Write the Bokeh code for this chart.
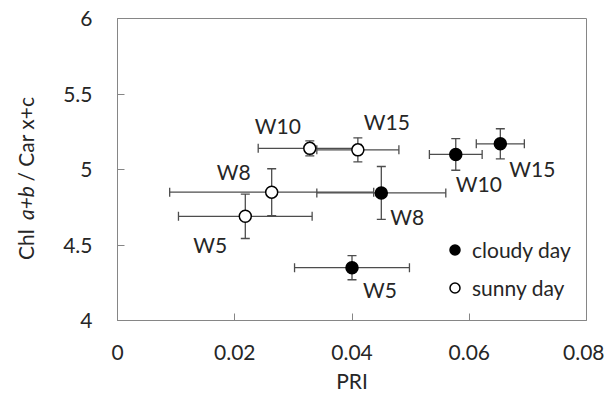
import numpy as np
from bokeh.plotting import figure
from bokeh.layouts import row
from bokeh.models import (ColumnDataSource, Whisker, TeeHead, Legend, LegendItem,
                          FixedTicker, Range1d)
from bokeh.core.properties import value
from bokeh.embed import file_html
from bokeh.resources import INLINE

# ---- data ----
weeks = ["W5", "W8", "W10", "W15"]
cloudy_pri = [0.0400, 0.0450, 0.0577, 0.0653]
cloudy_pri_err = [0.0098, 0.0110, 0.0045, 0.0041]
cloudy_ratio = [4.35, 4.845, 5.10, 5.17]
cloudy_ratio_err = [0.08, 0.175, 0.105, 0.10]

sunny_pri = [0.0218, 0.0263, 0.0328, 0.0410]
sunny_pri_err = [0.0114, 0.0174, 0.0088, 0.0070]
sunny_ratio = [4.69, 4.85, 5.14, 5.13]
sunny_ratio_err = [0.147, 0.155, 0.05, 0.08]

x_ticks = [0, 0.02, 0.04, 0.06, 0.08]
y_ticks = [4, 4.5, 5, 5.5, 6]
x_tick_labels = ["0", "0.02", "0.04", "0.06", "0.08"]
y_tick_labels = ["4", "4.5", "5", "5.5", "6"]

# label offsets (pixels, dy positive = down)
cloudy_dx = [28, 26, 23, 32]
cloudy_dy = [22, 24, 29, 25]
sunny_dx = [-35, -38, -32, 29]
sunny_dy = [28, -21, -23, -28]

# y-axis title pieces (plain / italic / plain)
ylab_parts = ["Chl", "a+b", "/ Car x+c"]
ylab_styles = ["normal", "italic", "normal"]
ylab_starts = [4.40, 4.665, 4.92]

FONT = "Lato"
FS = "21px"
TXT = "#262626"
BAR = "#4d4d4d"
H = 400
TOP, BOTTOM = 18, 80
LW = 40

# ---- narrow panel holding the y-axis title ----
pl = figure(width=LW, height=H, output_backend="svg", toolbar_location=None,
            x_range=Range1d(0, 1), y_range=Range1d(4, 6),
            x_axis_location=None, y_axis_location=None,
            min_border_left=0, min_border_right=0,
            min_border_top=TOP, min_border_bottom=BOTTOM)
pl.outline_line_color = None
pl.xgrid.visible = False
pl.ygrid.visible = False
for t, st, y0 in zip(ylab_parts, ylab_styles, ylab_starts):
    pl.text(x=[0.62], y=[y0], text=[t], angle=np.pi / 2,
            text_align="left", text_baseline="middle",
            text_font=value(FONT), text_font_size=FS, text_font_style=st,
            text_color=TXT)

# ---- main plot ----
p = figure(width=604 - LW, height=H, output_backend="svg", toolbar_location=None,
           x_range=Range1d(0, 0.08), y_range=Range1d(4, 6),
           min_border_left=117 - LW, min_border_top=TOP, min_border_right=18,
           min_border_bottom=BOTTOM)
p.outline_line_color = "#868686"
p.outline_line_width = 1
p.xgrid.visible = False
p.ygrid.visible = False

for ax in (p.xaxis[0], p.yaxis[0]):
    ax.axis_line_color = "#868686"
    ax.major_tick_line_color = "#868686"
    ax.major_tick_in = 7
    ax.major_tick_out = 0
    ax.minor_tick_line_color = None
    ax.major_label_text_font = FONT
    ax.major_label_text_font_size = FS
    ax.major_label_text_color = TXT

p.xaxis.ticker = FixedTicker(ticks=x_ticks)
p.yaxis.ticker = FixedTicker(ticks=y_ticks)
p.xaxis.major_label_overrides = {t: l for t, l in zip(x_ticks, x_tick_labels)}
p.yaxis.major_label_overrides = {t: l for t, l in zip(y_ticks, y_tick_labels)}
p.xaxis.major_label_standoff = 24
p.yaxis.major_label_standoff = 25
p.xaxis.axis_label = "PRI"
p.xaxis.axis_label_text_font = FONT
p.xaxis.axis_label_text_font_size = FS
p.xaxis.axis_label_text_font_style = "normal"
p.xaxis.axis_label_text_color = TXT
p.xaxis.axis_label_standoff = 5

# ---- error bars ----
def add_errors(xs, xe, ys, ye):
    src = ColumnDataSource(dict(
        x=xs, y=ys,
        xl=[a - b for a, b in zip(xs, xe)], xu=[a + b for a, b in zip(xs, xe)],
        yl=[a - b for a, b in zip(ys, ye)], yu=[a + b for a, b in zip(ys, ye)]))
    for dim, base, lo, up in (("width", "y", "xl", "xu"), ("height", "x", "yl", "yu")):
        w = Whisker(source=src, base=base, lower=lo, upper=up, dimension=dim,
                    line_color=BAR, line_width=1.3,
                    lower_head=TeeHead(size=9, line_color=BAR, line_width=1.3),
                    upper_head=TeeHead(size=9, line_color=BAR, line_width=1.3))
        p.add_layout(w)

add_errors(sunny_pri, sunny_pri_err, sunny_ratio, sunny_ratio_err)
add_errors(cloudy_pri, cloudy_pri_err, cloudy_ratio, cloudy_ratio_err)

# ---- points ----
r_sunny = p.scatter(sunny_pri, sunny_ratio, size=12, marker="circle",
                    fill_color="white", line_color="black", line_width=1.5)
r_cloudy = p.scatter(cloudy_pri, cloudy_ratio, size=12, marker="circle",
                     fill_color="black", line_color="black", line_width=1.5)

# ---- point labels ----
lab_src = ColumnDataSource(dict(
    x=cloudy_pri + sunny_pri, y=cloudy_ratio + sunny_ratio, t=weeks + weeks,
    dx=cloudy_dx + sunny_dx, dy=cloudy_dy + sunny_dy))
p.text(x="x", y="y", text="t", x_offset="dx", y_offset="dy", source=lab_src,
       text_font=value(FONT), text_font_size=FS, text_color=TXT,
       text_align="center", text_baseline="middle")

# ---- legend ----
legend = Legend(items=[LegendItem(label="cloudy day", renderers=[r_cloudy]),
                       LegendItem(label="sunny day", renderers=[r_sunny])],
                location=(325, 20), orientation="vertical",
                background_fill_alpha=0, border_line_color=None,
                padding=0, margin=0, spacing=13, glyph_width=25, glyph_height=25,
                label_height=25, label_standoff=5,
                label_text_font=FONT, label_text_font_size=FS, label_text_color=TXT)
p.add_layout(legend, "center")

layout = row(pl, p, spacing=0)
open("out.html", "w").write(file_html(layout, INLINE))
